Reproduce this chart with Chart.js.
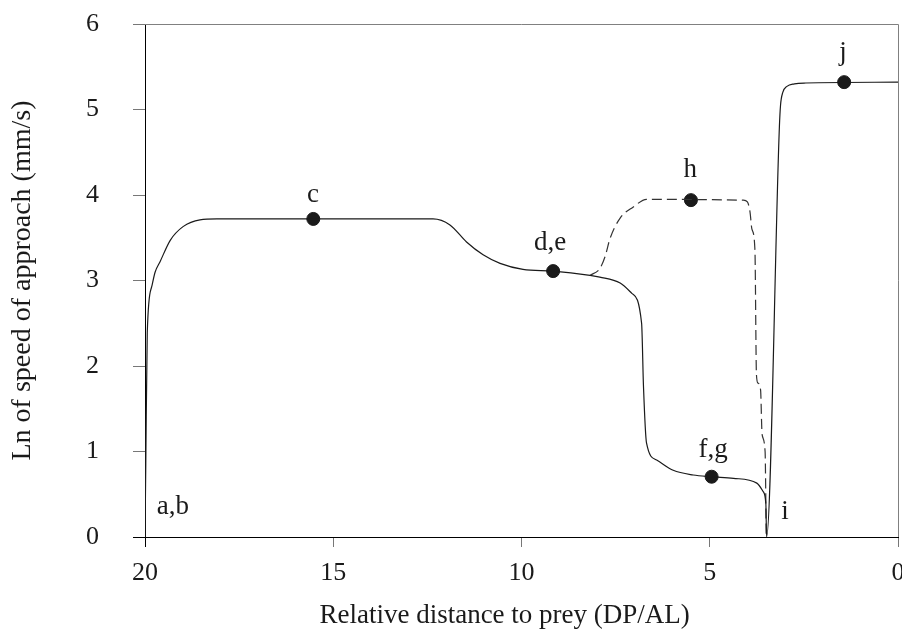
<!DOCTYPE html>
<html lang="en">
<head>
  <meta charset="UTF-8" />
  <title>Speed of approach</title>
  <style>
    html, body { margin: 0; padding: 0; background: #fff; overflow: hidden; }
    .wrap { width: 912px; height: 641px; position: relative; }
  </style>
</head>
<body>
  <div class="wrap"><canvas id="approachChart"></canvas></div>

  <script src="https://cdn.jsdelivr.net/npm/chart.js"></script>
  <script>
    // solid curve (relative distance, ln speed)
    const solidX = [20, 19.98, 19.94, 19.82, 19.73, 19.6, 19.33, 18.99, 18.54, 18.09,
      12.35, 11.9, 11.46, 11.02, 10.57, 9.96, 9.16, 8.18, 7.92, 7.38, 7.07, 6.81, 6.76,
      6.68, 6.41, 5.97, 5.44, 4.95, 4.37, 3.75, 3.58, 3.51, 3.49,
      3.15, 3.12, 3.06, 2.95, 2.75, 2.45, 0];
    const solidY = [0, 0.82, 2.39, 2.93, 3.10, 3.22, 3.47, 3.63, 3.71, 3.72,
      3.72, 3.65, 3.45, 3.30, 3.20, 3.13, 3.11, 3.06, 3.04, 2.97, 2.85, 2.50, 1.76,
      1.10, 0.90, 0.78, 0.725, 0.705, 0.686, 0.63, 0.53, 0.39, 0,
      4.8, 5.05, 5.2, 5.27, 5.30, 5.31, 5.32];

    // dashed alternative
    const dashX = [8.18, 7.92, 7.78, 7.65, 7.38, 7.03, 6.68, 4.11, 4.0, 3.93, 3.88,
      3.80, 3.76, 3.72, 3.65, 3.61, 3.53, 3.50];
    const dashY = [3.06, 3.14, 3.28, 3.49, 3.73, 3.86, 3.95, 3.94, 3.92, 3.8, 3.6,
      3.36, 1.9, 1.8, 1.72, 1.2, 1.0, 0];

    // marked points
    const dotX = [15.53, 9.16, 4.95, 5.50, 1.43];
    const dotY = [3.72, 3.11, 0.705, 3.94, 5.32];

    // letter labels
    const noteText = ['a,b', 'c', 'd,e', 'f,g', 'h', 'i', 'j'];
    const noteX = [19.26, 15.54, 9.24, 4.91, 5.52, 3.0, 1.46];
    const noteY = [0.35, 4.0, 3.44, 1.02, 4.29, 0.29, 5.66];

    const xTicks = [20, 15, 10, 5, 0];
    const yTicks = [0, 1, 2, 3, 4, 5, 6];

    const serif = 'Liberation Serif';
    const ink = '#1a1a1a';
    const frame = '#808080';

    const pts = (xs, ys) => xs.map((x, i) => ({ x: x, y: ys[i] }));

    // top/right frame lines + letter notes
    const notesPlugin = {
      id: 'notes',
      beforeDatasetsDraw(chart) {
        const { ctx, chartArea: a } = chart;
        ctx.save();
        ctx.strokeStyle = frame;
        ctx.lineWidth = 1;
        ctx.beginPath();
        ctx.moveTo(a.left, a.top + 0.5);
        ctx.lineTo(a.right + 0.5, a.top + 0.5);
        ctx.lineTo(a.right + 0.5, a.bottom);
        ctx.stroke();
        ctx.restore();
      },
      afterDatasetsDraw(chart) {
        const { ctx, scales } = chart;
        ctx.save();
        ctx.fillStyle = ink;
        ctx.font = '27px "' + serif + '"';
        ctx.textAlign = 'center';
        ctx.textBaseline = 'middle';
        noteText.forEach((t, i) => {
          ctx.fillText(t, scales.x.getPixelForValue(noteX[i]), scales.y.getPixelForValue(noteY[i]));
        });
        ctx.restore();
      }
    };

    new Chart(document.getElementById('approachChart').getContext('2d'), {
      type: 'scatter',
      data: {
        datasets: [
          {
            data: pts(solidX, solidY),
            showLine: true,
            borderColor: ink,
            borderWidth: 1.2,
            pointRadius: 0,
            cubicInterpolationMode: 'monotone'
          },
          {
            data: pts(dashX, dashY),
            showLine: true,
            borderColor: '#333',
            borderWidth: 1.2,
            borderDash: [10, 5],
            pointRadius: 0,
            cubicInterpolationMode: 'monotone'
          },
          {
            data: pts(dotX, dotY),
            showLine: false,
            pointRadius: 6.5,
            pointBackgroundColor: ink,
            pointBorderColor: ink
          }
        ]
      },
      options: {
        responsive: true,
        maintainAspectRatio: false,
        animation: false,
        layout: { padding: { left: 0, top: 24, right: 14, bottom: 0 } },
        plugins: { legend: { display: false }, tooltip: { enabled: false } },
        scales: {
          x: {
            type: 'linear',
            position: 'bottom',
            reverse: true,
            min: 0,
            max: 20,
            afterBuildTicks: s => { s.ticks = xTicks.map(v => ({ value: v })); },
            afterFit: s => { s.height = 104; s.paddingLeft = 0; s.paddingRight = 0; },
            ticks: { color: ink, font: { family: serif, size: 26 }, padding: 11, maxRotation: 0 },
            grid: {
              drawOnChartArea: false,
              tickLength: 10,
              color: c => (c.tick && c.tick.value === 20 ? '#000' : '#777')
            },
            border: { color: '#000', width: 1 },
            title: {
              display: true,
              text: 'Relative distance to prey (DP/AL)\u00a0\u00a0\u00a0\u00a0\u00a0',
              color: ink,
              font: { family: serif, size: 27 },
              padding: { top: 0, bottom: 9 }
            }
          },
          y: {
            type: 'linear',
            position: 'left',
            min: 0,
            max: 6,
            afterBuildTicks: s => { s.ticks = yTicks.map(v => ({ value: v })); },
            afterFit: s => { s.width = 145; s.paddingTop = 0; s.paddingBottom = 0; },
            ticks: { color: ink, font: { family: serif, size: 26 }, padding: 34 },
            grid: {
              drawOnChartArea: false,
              tickLength: 12,
              color: c => (c.tick && c.tick.value === 0 ? '#000' : '#777')
            },
            border: { color: '#000', width: 1 },
            title: {
              display: true,
              text: 'Ln of speed of approach (mm/s)',
              color: ink,
              font: { family: serif, size: 28 },
              padding: { top: 6, bottom: 0 }
            }
          }
        }
      },
      plugins: [notesPlugin]
    });
  </script>
</body>
</html>
